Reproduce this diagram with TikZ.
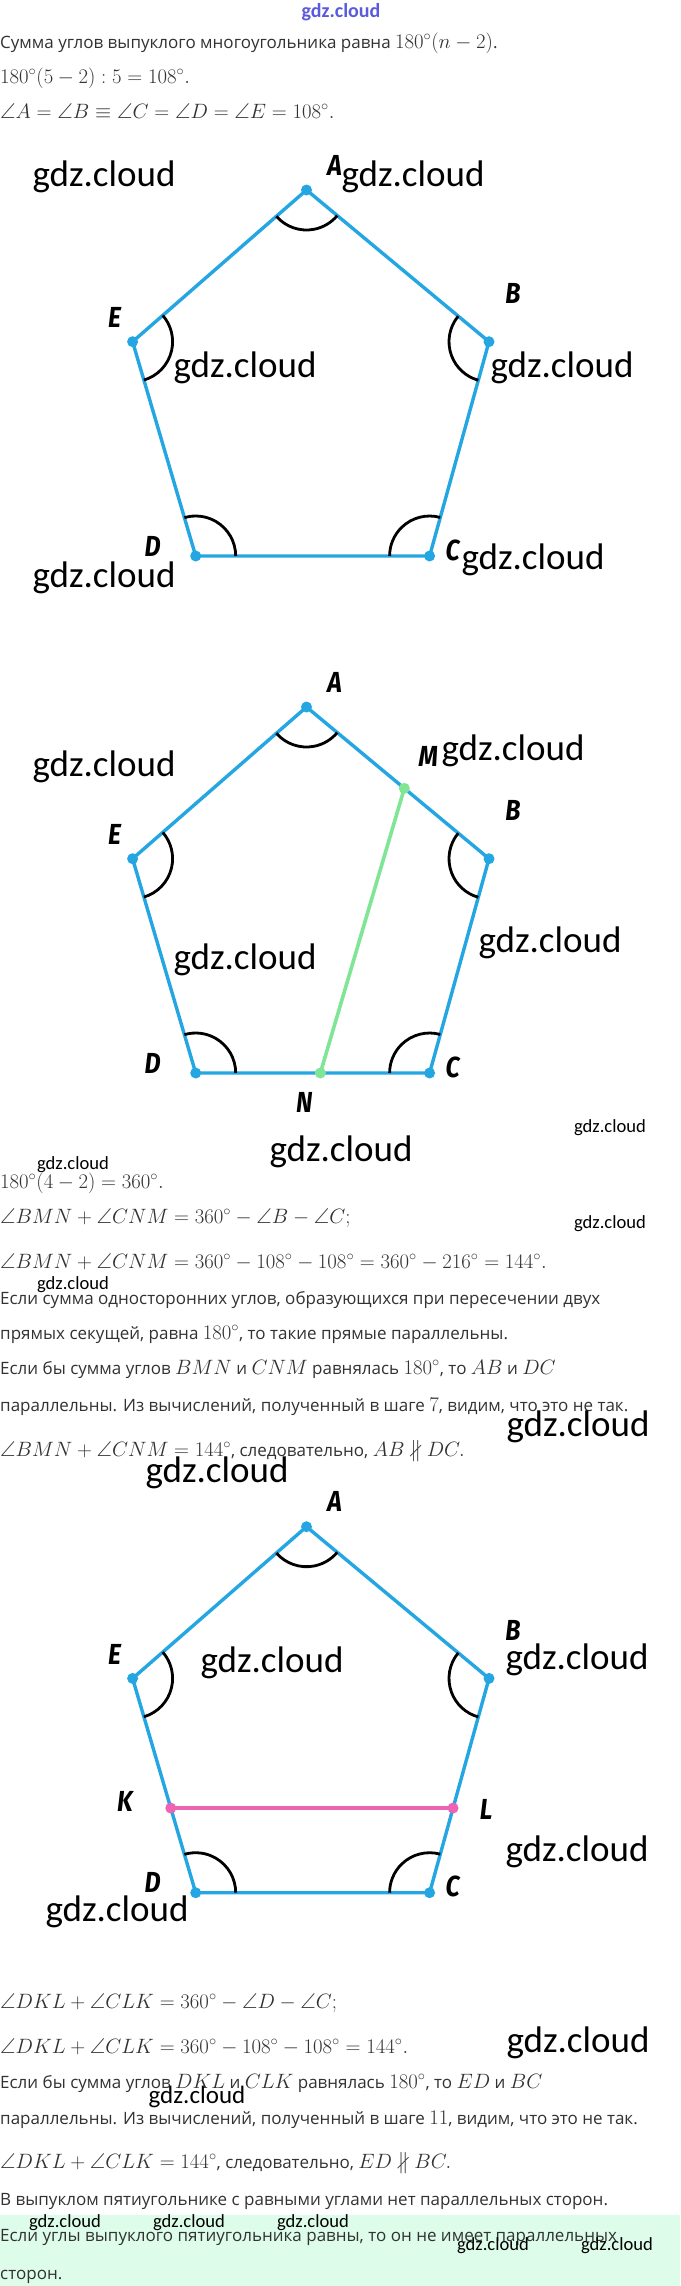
\documentclass[tikz,border=0pt]{standalone}
\usepackage{amsmath,amssymb}
\usepackage[no-math]{fontspec}
\setmainfont{Open Sans}
\newfontfamily\wmfont{Carlito}
\newfontfamily\lblfont[FakeStretch=0.86]{Fira Sans}
\usetikzlibrary{angles, quotes, calc}

\definecolor{pentblue}{RGB}{36,166,226}
\definecolor{segreen}{RGB}{128,230,150}
\definecolor{segpink}{RGB}{238,100,180}
\definecolor{textgray}{RGB}{50,50,50}
\definecolor{boxgreen}{RGB}{221,252,234}
\definecolor{wmblue}{RGB}{90,90,220}

% формулы чуть крупнее текста
\newcommand{\mth}[1]{{\fontsize{21.5}{24}\selectfont$#1$}}

\tikzset{
	txt/.style={anchor=base west, inner sep=0pt, text=textgray, font=\fontsize{17}{20}\selectfont},
	wm/.style={inner sep=0pt, font=\wmfont\fontsize{37}{40}\selectfont},
	wmsmall/.style={inner sep=0pt, font=\wmfont\fontsize{18.6}{20}\selectfont},
	vlabel/.style={inner sep=0pt, font=\lblfont\bfseries\itshape\fontsize{29}{30}\selectfont},
	pside/.style={pentblue, line width=3.4pt, line join=round},
	segline/.style={line width=3.6pt},
	ang/.style={draw, black, line width=2.8pt, angle radius=40pt},
}

% пятиугольник с углами и подписями вершин
\newcommand{\pentagon}[1]{%
	\coordinate (A#1) at (306.5,190);
	\coordinate (B#1) at (489,341.7);
	\coordinate (C#1) at (429.6,556);
	\coordinate (D#1) at (195.7,556);
	\coordinate (E#1) at (132.6,341.7);
	
	\draw[pside] (A#1) -- (B#1) -- (C#1) -- (D#1) -- (E#1) -- cycle;
	
	\pic [ang] {angle = E#1--A#1--B#1};
	\pic [ang] {angle = A#1--B#1--C#1};
	\pic [ang] {angle = B#1--C#1--D#1};
	\pic [ang] {angle = C#1--D#1--E#1};
	\pic [ang] {angle = D#1--E#1--A#1};
	
	\foreach \vx in {A,B,C,D,E}
		\fill[pentblue] (\vx#1) circle[radius=5.5pt];
	
	\node[vlabel, xshift=28pt, yshift=25pt] (lA#1) at (A#1) {A};
	\node[vlabel, xshift=24pt, yshift=48pt] (lB#1) at (B#1) {B};
	\node[vlabel, xshift=23pt, yshift=6pt] (lC#1) at (C#1) {C};
	\node[vlabel, xshift=-43pt, yshift=10pt] (lD#1) at (D#1) {D};
	\node[vlabel, xshift=-18pt, yshift=24pt] (lE#1) at (E#1) {E};
}

\begin{document}
\begin{tikzpicture}[x=1pt, y=-1pt]
	\path[use as bounding box, fill=white] (0,0) rectangle (680,2286);
	
	% Шаг 1
	\node[txt] (t1) at (0,48) {Сумма углов выпуклого многоугольника равна \mth{180^\circ(n-2)}.};
	\node[txt] (t2) at (0,83) {\mth{180^\circ(5-2):5=108^\circ.}};
	\node[txt] (t3) at (0,118) {\mth{\angle A=\angle B\equiv\angle C=\angle D=\angle E=108^\circ.}};
	
	\pentagon{1}
	
	% Отрезок MN
	\begin{scope}[shift={(0,517)}]
		\pentagon{2}
	\end{scope}
	\coordinate (M) at ($(A2)!0.536!(B2)$);
	\coordinate (N) at ($(D2)!0.533!(C2)$);
	\draw[segline, segreen] (M) -- (N);
	\fill[segreen] (M) circle[radius=5.5pt];
	\fill[segreen] (N) circle[radius=5.5pt];
	\node[vlabel, xshift=24pt, yshift=32pt] (lM) at (M) {M};
	\node[vlabel, xshift=-16pt, yshift=-29pt] (lN) at (N) {N};
	
	\node[txt] (t4) at (0,1188) {\mth{180^\circ(4-2)=360^\circ.}};
	\node[txt] (t5) at (0,1223) {\mth{\angle BMN+\angle CNM=360^\circ-\angle B-\angle C;}};
	\node[txt] (t6) at (0,1268) {\mth{\angle BMN+\angle CNM=360^\circ-108^\circ-108^\circ=360^\circ-216^\circ=144^\circ.}};
	\node[txt] (t7) at (0,1304) {Если сумма односторонних углов, образующихся при пересечении двух};
	\node[txt] (t8) at (0,1339) {прямых секущей, равна \mth{180^\circ}, то такие прямые параллельны.};
	\node[txt] (t9) at (0,1374) {Если бы сумма углов \mth{BMN} и \mth{CNM} равнялась \mth{180^\circ}, то \mth{AB} и \mth{DC}};
	\node[txt] (t10) at (0,1411) {параллельны. Из вычислений, полученный в шаге \mth{7}, видим, что это не так.};
	\node[txt] (t11) at (0,1456) {\mth{\angle BMN+\angle CNM=144^\circ}, следовательно, \mth{AB\nparallel DC.}};
	
	% Отрезок KL
	\begin{scope}[shift={(0,1336.7)}]
		\pentagon{3}
	\end{scope}
	\coordinate (K) at ($(E3)!0.605!(D3)$);
	\coordinate (L) at ($(B3)!0.605!(C3)$);
	\draw[segline, segpink] (K) -- (L);
	\fill[segpink] (K) circle[radius=5.5pt];
	\fill[segpink] (L) circle[radius=5.5pt];
	\node[vlabel, xshift=-46pt, yshift=7pt] (lK) at (K) {K};
	\node[vlabel, xshift=33pt, yshift=-1pt] (lL) at (L) {L};
	
	\node[txt] (t12) at (0,2008) {\mth{\angle DKL+\angle CLK=360^\circ-\angle D-\angle C;}};
	\node[txt] (t13) at (0,2053) {\mth{\angle DKL+\angle CLK=360^\circ-108^\circ-108^\circ=144^\circ.}};
	\node[txt] (t14) at (0,2088) {Если бы сумма углов \mth{DKL} и \mth{CLK} равнялась \mth{180^\circ}, то \mth{ED} и \mth{BC}};
	\node[txt] (t15) at (0,2124) {параллельны. Из вычислений, полученный в шаге \mth{11}, видим, что это не так.};
	\node[txt] (t16) at (0,2168) {\mth{\angle DKL+\angle CLK=144^\circ}, следовательно, \mth{ED\nparallel BC.}};
	\node[txt] (t17) at (0,2205) {В выпуклом пятиугольнике с равными углами нет параллельных сторон.};
	
	% Вывод
	\fill[boxgreen] (0,2215) rectangle (680,2286);
	\node[txt] (t18) at (0,2241) {Если углы выпуклого пятиугольника равны, то он не имеет параллельных};
	\node[txt] (t19) at (0,2279) {сторон.};
	
	% Водяные знаки
	\node[inner sep=0pt, text=wmblue, font=\wmfont\bfseries\fontsize{20}{22}\selectfont] (w0) at (341,12) {gdz.cloud};
	\node[wm] (w1) at (104,177) {gdz.cloud};
	\node[wm] (w2) at (413,177) {gdz.cloud};
	\node[wm] (w3) at (245,368) {gdz.cloud};
	\node[wm] (w4) at (562,368) {gdz.cloud};
	\node[wm] (w5) at (533,560) {gdz.cloud};
	\node[wm] (w6) at (104,578) {gdz.cloud};
	\node[wm] (w7) at (104,767) {gdz.cloud};
	\node[wm] (w8) at (513,751) {gdz.cloud};
	\node[wm] (w9) at (245,960) {gdz.cloud};
	\node[wm] (w10) at (550,943) {gdz.cloud};
	\node[wm] (w11) at (341,1152) {gdz.cloud};
	\node[wm] (w12) at (578,1427) {gdz.cloud};
	\node[wm] (w13) at (217,1473) {gdz.cloud};
	\node[wm] (w14) at (272,1663) {gdz.cloud};
	\node[wm] (w15) at (577,1660) {gdz.cloud};
	\node[wm] (w16) at (577,1852) {gdz.cloud};
	\node[wm] (w17) at (117,1912) {gdz.cloud};
	\node[wm] (w18) at (578,2043) {gdz.cloud};
	\node[inner sep=0pt, font=\wmfont\fontsize{25}{27}\selectfont] (w19) at (197,2097) {gdz.cloud};
	\node[wmsmall] (s1) at (610,1128) {gdz.cloud};
	\node[wmsmall] (s2) at (73,1165) {gdz.cloud};
	\node[wmsmall] (s3) at (610,1224) {gdz.cloud};
	\node[wmsmall] (s4) at (73,1285) {gdz.cloud};
	\node[wmsmall] (s5) at (65,2223) {gdz.cloud};
	\node[wmsmall] (s6) at (189,2223) {gdz.cloud};
	\node[wmsmall] (s7) at (313,2223) {gdz.cloud};
	\node[wmsmall] (s8) at (493,2246) {gdz.cloud};
	\node[wmsmall] (s9) at (617,2246) {gdz.cloud};
\end{tikzpicture}
\end{document}
